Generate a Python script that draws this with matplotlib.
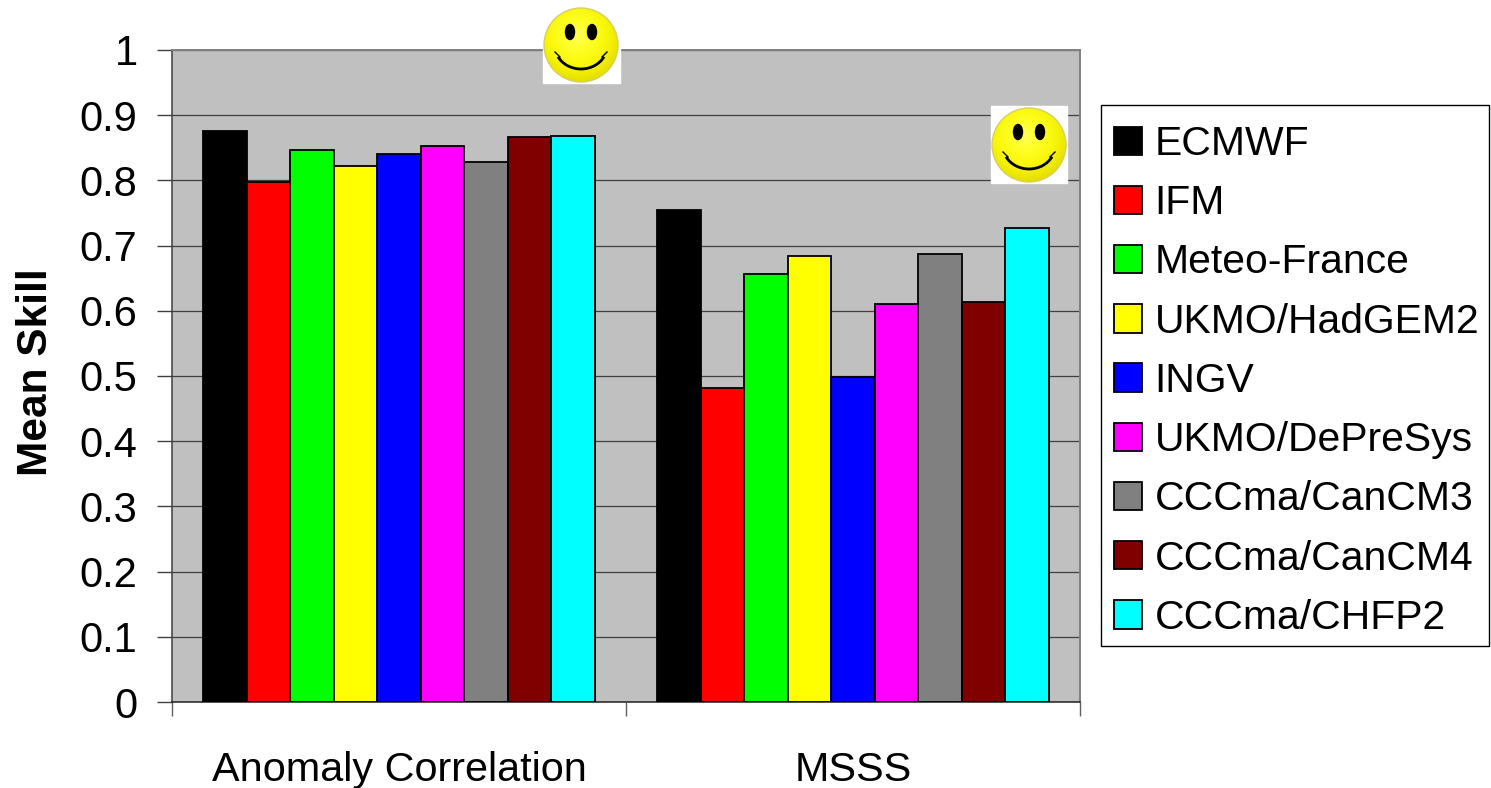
import numpy as np
import matplotlib
matplotlib.use('Agg')
import matplotlib.pyplot as plt
from matplotlib.patches import Circle, Arc, Ellipse, Rectangle

plt.rcParams['font.family'] = ['Liberation Sans', 'DejaVu Sans']

groups = ['Anomaly Correlation', 'MSSS']
models = ['ECMWF', 'IFM', 'Meteo-France', 'UKMO/HadGEM2', 'INGV',
          'UKMO/DePreSys', 'CCCma/CanCM3', 'CCCma/CanCM4', 'CCCma/CHFP2']
colors = ['#000000', '#ff0000', '#00ff00', '#ffff00', '#0000ff',
          '#ff00ff', '#808080', '#800000', '#00ffff']
anomaly = [0.875, 0.798, 0.847, 0.822, 0.841, 0.853, 0.828, 0.866, 0.868]
msss = [0.755, 0.482, 0.656, 0.684, 0.499, 0.610, 0.687, 0.613, 0.727]
yticks = [0, 0.1, 0.2, 0.3, 0.4, 0.5, 0.6, 0.7, 0.8, 0.9, 1]
yticklabels = ['0', '0.1', '0.2', '0.3', '0.4', '0.5', '0.6', '0.7', '0.8', '0.9', '1']

W, H = 1491, 788
fig = plt.figure(figsize=(W / 100, H / 100), dpi=100)
ax = fig.add_axes([172 / W, 1 - 702 / H, (1080 - 172) / W, (702 - 50) / H])
ax.set_facecolor('#c0c0c0')

bw = 0.0957
for g, vals in enumerate([anomaly, msss]):
    for i, v in enumerate(vals):
        ax.bar(g + 0.5 + (i - 4) * bw, v, bw, color=colors[i], edgecolor='black',
               linewidth=1.3, zorder=3, label=models[i] if g == 0 else None)

ax.set_xlim(0, 2)
ax.set_ylim(0, 1)
ax.set_yticks(yticks)
ax.set_yticklabels(yticklabels, fontsize=30)
ax.set_xticks([0, 1, 2])
ax.set_xticklabels([])
ax.set_xticks([0.5, 1.5], minor=True)
ax.set_xticklabels(groups, minor=True, fontsize=29.8)
ax.tick_params(axis='x', which='minor', length=0, pad=35)
ax.tick_params(axis='x', which='major', length=10, width=1, direction='out', color='#606060')
ax.tick_params(axis='y', length=10.8, width=1, pad=14, color='#404040')
ax.grid(axis='y', color='#404040', linewidth=0.9, zorder=1)
ax.set_axisbelow(True)
ax.set_ylabel('Mean Skill', fontsize=30.5, fontweight='bold')
ax.yaxis.set_label_coords((56 - 172) / 908, (702 - 372) / 652)
for s in ['top', 'right']:
    ax.spines[s].set_color('#808080')
    ax.spines[s].set_linewidth(1.4)
ax.spines['left'].set_color('#404040')
ax.spines['left'].set_linewidth(1.1)
ax.spines['bottom'].set_color('#202020')
ax.spines['bottom'].set_linewidth(1.1)

# legend box is drawn apart because the reference has more room above the first entry
fig.add_artist(Rectangle((1101 / W, 1 - 646 / H), 388 / W, 541 / H, transform=fig.transFigure,
                         facecolor='white', edgecolor='black', linewidth=1, zorder=-1))
leg = ax.legend(loc='upper left', bbox_to_anchor=(1114 / W, 1 - 125 / H),
                bbox_transform=fig.transFigure, fontsize=29.4, frameon=False, borderpad=0,
                labelspacing=0.52, handlelength=0.69, handleheight=0.69, handletextpad=0.3,
                borderaxespad=0)

# smiley pictures, placed in figure pixels
px = fig.add_axes([0, 0, 1, 1], facecolor='none')
px.axis('off')
yy, xx = np.mgrid[-1:1:200j, -1:1:200j]
shade = np.clip(np.hypot(xx + 0.1, yy + 0.25) / 1.2, 0, 1)
face = np.dstack([1 - 0.1 * shade ** 3, 1 - 0.12 * shade ** 3, 0.35 * (1 - shade) ** 2])
for cx, cy, r, x0, y0, x1, y1 in [(581, 45, 37, 543, 7, 620, 83), (1029, 145, 37, 991, 106, 1067, 183)]:
    px.add_patch(Rectangle((x0, y0), x1 - x0, y1 - y0, color='white', zorder=4))
    disc = Circle((cx, cy), r, facecolor='none', edgecolor='#d8cf60', linewidth=1, zorder=6)
    px.add_patch(disc)
    im = px.imshow(face, extent=(cx - r, cx + r, cy + r, cy - r), zorder=5, aspect='auto')
    im.set_clip_path(disc)
    px.add_patch(Ellipse((cx - 11, cy - 13), 9, 15, color='black', zorder=7))
    px.add_patch(Ellipse((cx + 11, cy - 13), 9, 15, color='black', zorder=7))
    px.add_patch(Arc((cx, cy + 1), 52, 46, theta1=25, theta2=155, color='black', linewidth=2, zorder=7))
    px.plot([cx - 26, cx - 21], [cy + 7, cy + 12], color='black', linewidth=1, zorder=7)
    px.plot([cx + 26, cx + 21], [cy + 7, cy + 12], color='black', linewidth=1, zorder=7)
px.set_xlim(0, W)
px.set_ylim(H, 0)

fig.savefig('out.png', dpi=100)
